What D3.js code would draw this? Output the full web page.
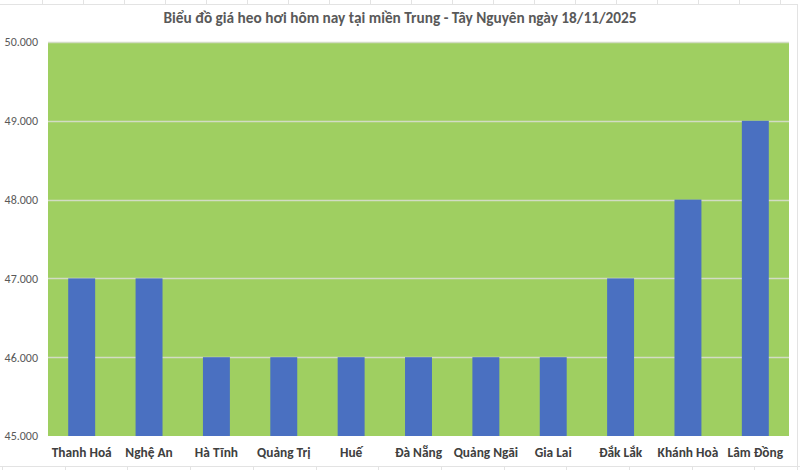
<!DOCTYPE html>
<html><head><meta charset="utf-8">
<script src="https://cdn.jsdelivr.net/npm/d3@7"></script>
<style>body{margin:0;background:#fff}svg{display:block}</style>
</head><body>
<svg id="c" width="800" height="470"></svg>
<script>
const categories = ["Thanh Hoá","Nghệ An","Hà Tĩnh","Quảng Trị","Huế","Đà Nẵng","Quảng Ngãi","Gia Lai","Đắk Lắk","Khánh Hoà","Lâm Đồng"];
const prices = [47000,47000,46000,46000,46000,46000,46000,46000,47000,48000,49000];
const yTicks = [45000,46000,47000,48000,49000,50000];
const title = "Biểu đồ giá heo hơi hôm nay tại miền Trung - Tây Nguyên ngày 18/11/2025";

const svg = d3.select("#c");
const W = 800, H = 470;
const m = {l:48, r:11, t:42, b:34};
const font = "Calibri, Carlito, 'Open Sans', 'Noto Sans', sans-serif";

// faint spreadsheet cell borders
const deco = svg.append("g").attr("stroke","#e3e3e3").attr("stroke-width",1);
deco.append("line").attr("x1",0).attr("x2",797).attr("y1",4.5).attr("y2",4.5);
deco.append("line").attr("x1",797.5).attr("x2",797.5).attr("y1",4).attr("y2",470);
d3.range(42,797,41).forEach(x=>deco.append("line").attr("x1",x+0.5).attr("x2",x+0.5).attr("y1",0).attr("y2",4));
deco.append("line").attr("x1",0).attr("x2",800).attr("y1",466.5).attr("y2",466.5);
d3.range(2,800,62.7).forEach(x=>deco.append("line").attr("x1",Math.round(x)+0.5).attr("x2",Math.round(x)+0.5).attr("y1",466).attr("y2",470));

const x = d3.scaleBand().domain(categories).range([m.l, W-m.r]).paddingInner(0.6).paddingOuter(0.3);
const y = d3.scaleLinear().domain([45000,50000]).range([H-m.b, m.t]);

// plot area
svg.append("rect").attr("x",m.l).attr("y",m.t).attr("width",W-m.r-m.l).attr("height",H-m.b-m.t).attr("fill","#9fcf61");

// gridlines
svg.append("g").selectAll("line").data(yTicks.slice(1)).join("line")
  .attr("x1",m.l).attr("x2",W-m.r).attr("y1",d=>Math.round(y(d))+0.5).attr("y2",d=>Math.round(y(d))+0.5)
  .attr("stroke","#d2dcc4").attr("stroke-width",1.3);

// bars
svg.append("g").selectAll("rect").data(categories).join("rect")
  .attr("x",d=>x(d)).attr("width",x.bandwidth())
  .attr("y",(d,i)=>y(prices[i])).attr("height",(d,i)=>y(45000)-y(prices[i]))
  .attr("fill","#4a70c1");

// y axis
const fmt = d => d3.format(",.0f")(d).replace(/,/g,".");
const ya = svg.append("g").attr("transform",`translate(${m.l},0)`)
  .call(d3.axisLeft(y).tickValues(yTicks).tickFormat(fmt).tickSize(0).tickPadding(10));
ya.select(".domain").remove();
ya.selectAll("text").attr("font-family",font).attr("font-size",12).attr("fill","#595959");

// x axis
const xa = svg.append("g").attr("transform",`translate(0,${H-m.b})`)
  .call(d3.axisBottom(x).tickSize(0).tickPadding(11));
xa.select(".domain").remove();
xa.selectAll("text").attr("font-family",font).attr("font-size",13.4).attr("font-weight","bold").attr("fill","#404040");

// title
svg.append("text").attr("x",400).attr("y",23).attr("text-anchor","middle")
  .attr("font-family",font).attr("font-size",15.3).attr("font-weight","bold").attr("fill","#595959").text(title);
</script>
</body></html>
